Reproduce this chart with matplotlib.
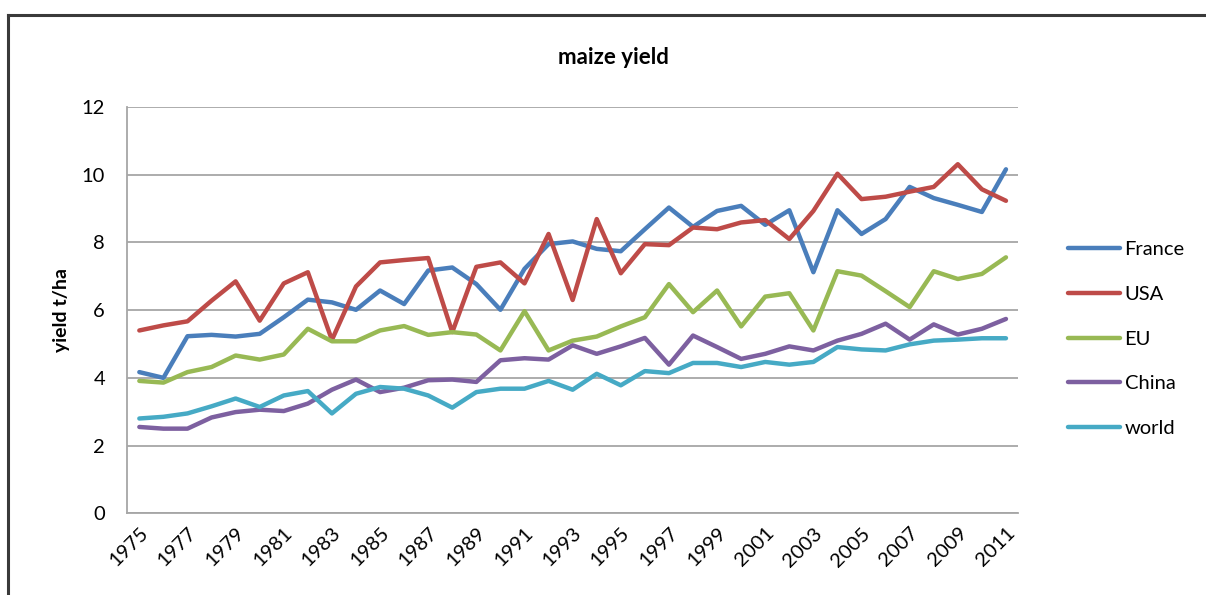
import matplotlib
matplotlib.use("Agg")
import matplotlib.pyplot as plt
from matplotlib.lines import Line2D

years = list(range(1975, 2012))
france = [4.17, 4.00, 5.23, 5.27, 5.22, 5.30, 5.79, 6.31, 6.23, 6.01, 6.58, 6.18,
          7.17, 7.26, 6.77, 6.01, 7.22, 7.95, 8.03, 7.81, 7.74, 8.39, 9.03, 8.46,
          8.93, 9.08, 8.52, 8.95, 7.12, 8.95, 8.25, 8.69, 9.64, 9.31, 9.11, 8.90, 10.16]
usa = [5.40, 5.55, 5.67, 6.28, 6.85, 5.69, 6.79, 7.12, 5.12, 6.70, 7.41, 7.48,
       7.54, 5.35, 7.28, 7.41, 6.79, 8.25, 6.30, 8.69, 7.09, 7.95, 7.92, 8.44,
       8.39, 8.59, 8.66, 8.10, 8.93, 10.03, 9.28, 9.35, 9.50, 9.64, 10.31, 9.57, 9.23]
eu = [3.91, 3.86, 4.17, 4.32, 4.66, 4.54, 4.69, 5.45, 5.08, 5.08, 5.40, 5.53,
      5.27, 5.35, 5.28, 4.81, 5.97, 4.81, 5.10, 5.22, 5.52, 5.79, 6.77, 5.94,
      6.58, 5.52, 6.40, 6.50, 5.40, 7.15, 7.02, 6.56, 6.09, 7.15, 6.92, 7.07, 7.56]
china = [2.55, 2.50, 2.50, 2.83, 2.99, 3.06, 3.02, 3.24, 3.65, 3.95, 3.58, 3.71,
         3.93, 3.95, 3.88, 4.52, 4.58, 4.54, 4.96, 4.71, 4.93, 5.18, 4.39, 5.25,
         4.91, 4.56, 4.71, 4.93, 4.81, 5.10, 5.30, 5.60, 5.13, 5.58, 5.28, 5.45, 5.74]
world = [2.80, 2.85, 2.95, 3.16, 3.39, 3.14, 3.48, 3.61, 2.95, 3.53, 3.73, 3.68,
         3.48, 3.12, 3.58, 3.68, 3.68, 3.91, 3.65, 4.12, 3.78, 4.20, 4.14, 4.44,
         4.44, 4.32, 4.47, 4.39, 4.47, 4.91, 4.84, 4.81, 4.99, 5.10, 5.13, 5.17, 5.17]

series_names = ["France", "USA", "EU", "China", "world"]
series_data = [france, usa, eu, china, world]
colors = ["#4A7EBB", "#BE4B48", "#98B954", "#7D60A0", "#46AAC5"]
tick_years = list(range(1975, 2012, 2))
yticks = [0, 2, 4, 6, 8, 10, 12]

plt.rcParams['font.family'] = ['Lato', 'DejaVu Sans']

fig = plt.figure(figsize=(12.06, 5.95), dpi=100)
ax = fig.add_axes([127.3 / 1206, 1 - 513.3 / 595, (1018 - 127.3) / 1206, (513.3 - 107) / 595])

for name, data, c in zip(series_names, series_data, colors):
    ax.plot(years, data, color=c, lw=3.2, label=name, solid_capstyle='round', solid_joinstyle='round')

ax.set_xlim(1974.5, 2011.5)
ax.set_ylim(0, 12)
ax.set_yticks(yticks)
ax.set_xticks(tick_years)
ax.set_xticklabels([str(y) for y in tick_years], rotation=45, ha='right', rotation_mode='anchor')
ax.tick_params(axis='both', length=0, labelsize=14.5, colors='black')
ax.tick_params(axis='y', pad=16)
ax.tick_params(axis='x', pad=8)
ax.grid(axis='y', color='#A6A6A6', lw=1.3)
ax.set_axisbelow(True)
for s in ['top', 'right']:
    ax.spines[s].set_visible(False)
for s in ['left', 'bottom']:
    ax.spines[s].set_color('#A6A6A6')
    ax.spines[s].set_linewidth(1.3)

fig.text(613 / 1206, 1 - 57 / 595, "maize yield", ha='center', va='center', fontsize=16, fontweight='bold')
fig.text(62 / 1206, 1 - 310 / 595, "yield t/ha", ha='center', va='center', rotation=90, fontsize=14, fontweight='bold')

leg = fig.legend(loc='center left', bbox_to_anchor=(1050 / 1206, 1 - 339 / 595), frameon=False,
                 fontsize=14.5, handlelength=2.6, handletextpad=0.2, labelspacing=1.38)

# chart frame (cropped)
fig.add_artist(Line2D([8 / 1206, 8 / 1206], [0, 1 - 15 / 595], transform=fig.transFigure, color='#3A3A3A', lw=2.2))
fig.add_artist(Line2D([8 / 1206, 1], [1 - 15 / 595, 1 - 15 / 595], transform=fig.transFigure, color='#3A3A3A', lw=2.2))

fig.savefig("out.png", dpi=100)
